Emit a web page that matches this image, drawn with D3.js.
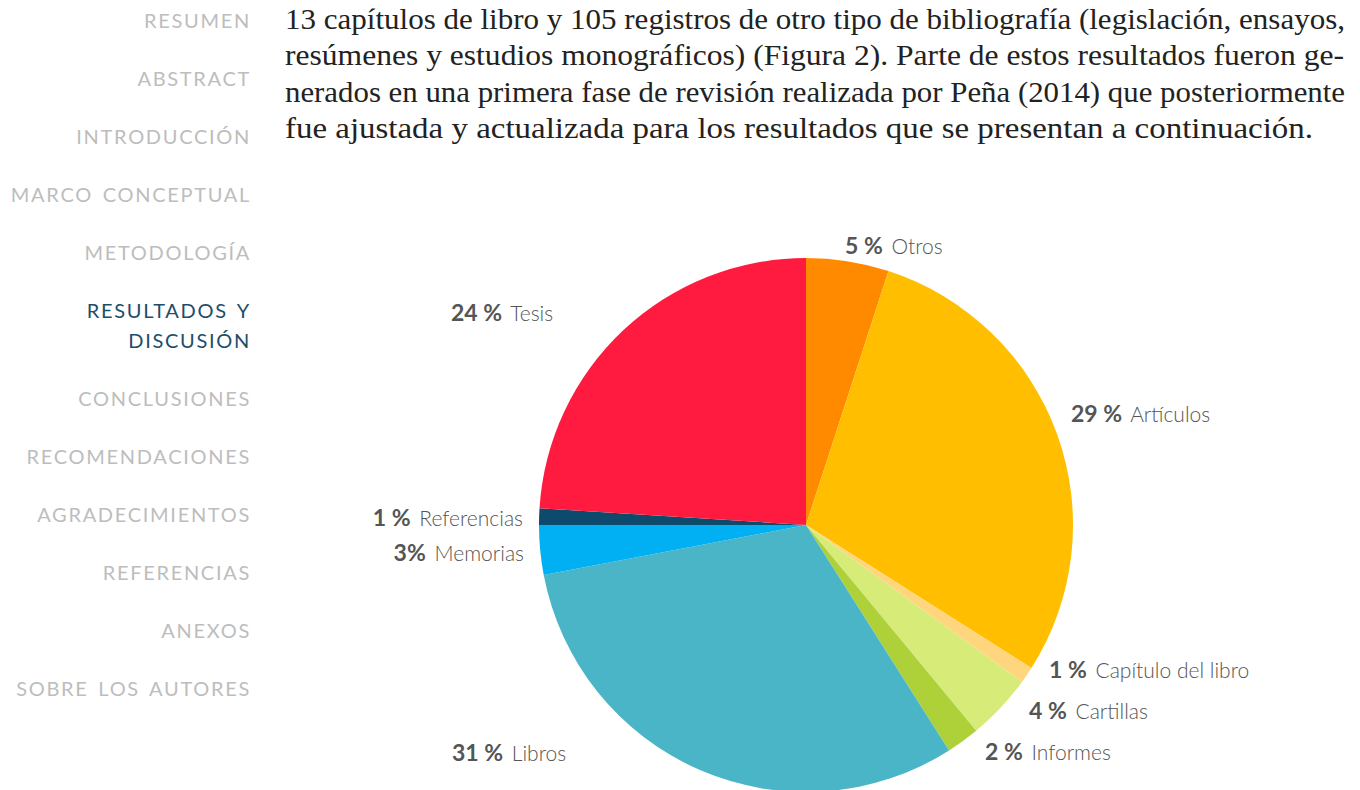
<!DOCTYPE html>
<html>
<head>
<meta charset="utf-8">
<script src="https://cdn.jsdelivr.net/npm/d3@7"></script>
<style>
  html, body { margin: 0; padding: 0; background: #ffffff; }
  svg { display: block; }
</style>
</head>
<body>
<div id="chart"></div>
<script>
// Data
const categories = ["Otros", "Artículos", "Capítulo del libro", "Cartillas", "Informes", "Libros", "Memorias", "Referencias", "Tesis"];
const values = [5, 29, 1, 4, 2, 31, 3, 1, 24];
const valueLabels = ["5 %", "29 %", "1 %", "4 %", "2 %", "31 %", "3%", "1 %", "24 %"];
const colors = ["#ff8a00", "#ffbf00", "#ffd57e", "#d7ec78", "#aed13a", "#4bb5c8", "#00b0f2", "#0d4a6b", "#ff1a3f"];

const menuItems = ["RESUMEN", "ABSTRACT", "INTRODUCCIÓN", "MARCO CONCEPTUAL", "METODOLOGÍA", "RESULTADOS Y|DISCUSIÓN", "CONCLUSIONES", "RECOMENDACIONES", "AGRADECIMIENTOS", "REFERENCIAS", "ANEXOS", "SOBRE LOS AUTORES"];
const activeItem = "RESULTADOS Y|DISCUSIÓN";

const bodyLines = [
  "13 capítulos de libro y 105 registros de otro tipo de bibliografía (legislación, ensayos,",
  "resúmenes y estudios monográficos) (Figura 2). Parte de estos resultados fueron ge-",
  "nerados en una primera fase de revisión realizada por Peña (2014) que posteriormente",
  "fue ajustada y actualizada para los resultados que se presentan a continuación."
];
const bodyWidths = [1060, 1059, 1060, 1028];

// label anchors relative to pie centre: [x, y, anchor]
const labelPos = [
  [39, -271, "start"],
  [265, -103, "start"],
  [243, 153, "start"],
  [223, 194, "start"],
  [179, 235, "start"],
  [-354, 236, "start"],
  [-282, 36, "end"],
  [-283, 1, "end"],
  [-355, -204, "start"]
];

const W = 1360, H = 790;
const cx = 806, cy = 525, R = 267;
const sans = "Lato, 'Noto Sans', sans-serif";

const svg = d3.select("#chart").append("svg")
    .attr("width", W)
    .attr("height", H);

// Side menu
let my = 28;
menuItems.forEach(item => {
    const lines = item.split("|");
    lines.forEach((ln, j) => {
        svg.append("text")
            .text(ln)
            .attr("x", 251)
            .attr("y", my + j * 30)
            .attr("text-anchor", "end")
            .style("font-family", sans)
            .style("font-size", "20px")
            .style("letter-spacing", "1.7px")
            .style("word-spacing", "3px")
            .style("fill", item === activeItem ? "#1c4e6a" : "#bdbdbd");
    });
    my += 58 + (lines.length - 1) * 30;
});

// Body paragraph
bodyLines.forEach((ln, i) => {
    svg.append("text")
        .text(ln)
        .attr("x", 285)
        .attr("y", 29 + i * 36.3)
        .attr("textLength", bodyWidths[i])
        .attr("lengthAdjust", "spacingAndGlyphs")
        .style("font-family", "'Liberation Serif', 'Times New Roman', serif")
        .style("font-size", "28.5px")
        .style("fill", "#222222");
});

// Pie
const pie = d3.pie().sort(null).value(d => d);
const arc = d3.arc().innerRadius(0).outerRadius(R);
const arcs = pie(values);

const g = svg.append("g")
    .attr("transform", `translate(${cx},${cy})`);

g.selectAll("path")
    .data(arcs)
    .join("path")
    .attr("d", arc)
    .attr("fill", (d, i) => colors[i]);

// Labels
arcs.forEach((d, i) => {
    const p = labelPos[i];
    const t = g.append("text")
        .attr("x", p[0])
        .attr("y", p[1])
        .attr("text-anchor", p[2])
        .style("font-family", sans)
        .style("fill", "#555555");
    t.append("tspan")
        .text(valueLabels[i])
        .style("font-weight", "bold")
        .style("font-size", "23px");
    t.append("tspan")
        .text(" " + categories[i])
        .attr("dx", 3)
        .style("font-weight", "300")
        .style("font-size", "21px");
});
</script>
</body>
</html>
